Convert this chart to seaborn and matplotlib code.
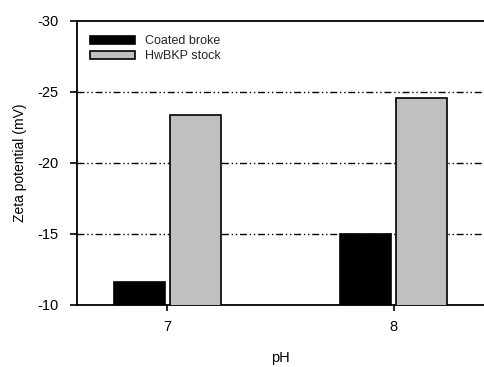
import matplotlib
matplotlib.use("Agg")
import matplotlib.pyplot as plt
import seaborn as sns
import pandas as pd

# Zeta-Potential der beiden Stoffe bei pH 7 und 8
ph_values = ["7", "8"]
samples = ["Coated broke", "HwBKP stock"]
coated_broke = [-11.6, -15.0]
hwbkp_stock = [-23.4, -24.6]
sample_colors = ["#000000", "#C0C0C0"]

df = pd.DataFrame({
    "pH": ph_values * 2,
    "sample": [samples[0]] * 2 + [samples[1]] * 2,
    "zeta": coated_broke + hwbkp_stock,
})

sns.set_style("white")
plt.rcParams["font.family"] = ["Liberation Sans", "DejaVu Sans"]

fig = plt.figure(figsize=(4.84, 3.67), dpi=100)
ax = fig.add_axes([0.159, 0.169, 0.841, 0.774])

sns.barplot(data=df, x="pH", y="zeta", hue="sample", palette=sample_colors,
            width=0.5, gap=0.1, edgecolor="black", linewidth=1.2, ax=ax, zorder=3)

# gestrichelte Hilfslinien
for yv in [-15, -20, -25]:
    ax.axhline(yv, color="black", lw=1.0, ls=(0, (5, 2, 1, 2, 1, 2)), zorder=1)

ax.set_ylim(-10, -30)
ax.set_xlim(-0.4, 1.4)
ax.set_yticks([-10, -15, -20, -25, -30])
ax.set_yticklabels(["-10", "-15", "-20", "-25", "-30"])
ax.tick_params(axis="y", direction="out", length=5, width=1.2, labelsize=10.5,
               pad=8, left=True, color="black", labelcolor="black")
ax.tick_params(axis="x", direction="out", length=4, width=1.2, labelsize=10.5,
               pad=7, bottom=True, color="black", labelcolor="black")
ax.set_xlabel("pH", fontsize=10.5, labelpad=12, color="black")
ax.set_ylabel("Zeta potential (mV)", fontsize=10, labelpad=8, color="black")

ax.spines["right"].set_visible(False)
for s in ["left", "top", "bottom"]:
    ax.spines[s].set_linewidth(1.3)
    ax.spines[s].set_color("black")

leg = ax.legend(loc="upper left", frameon=False, fontsize=9, handlelength=3.6,
                handleheight=0.6, bbox_to_anchor=(0.005, 0.99), labelspacing=0.25)

fig.savefig("out.png", dpi=100)
